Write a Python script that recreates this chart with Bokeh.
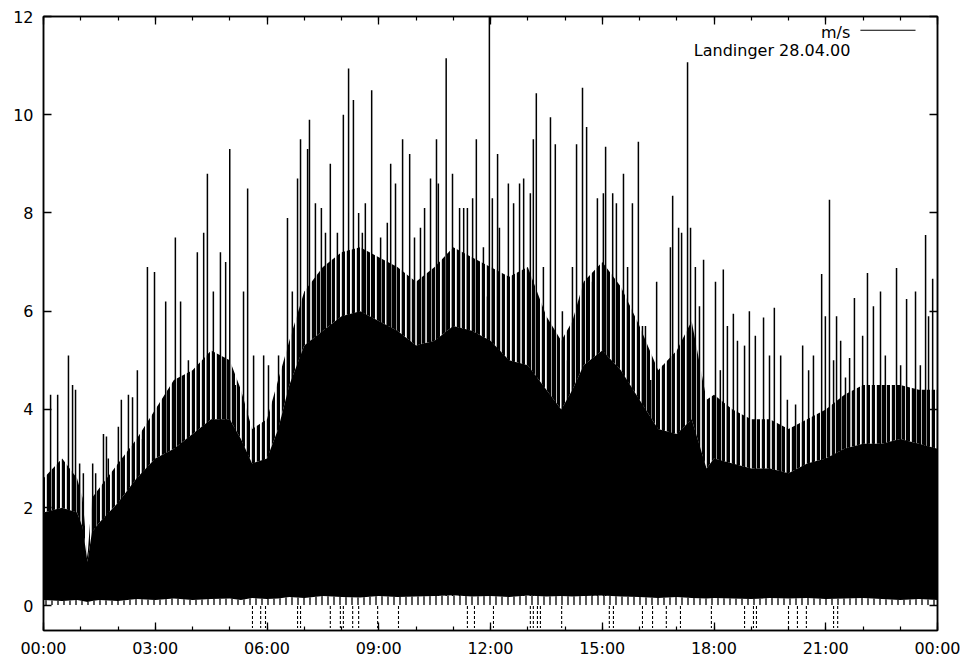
from bokeh.plotting import figure
from bokeh.models import FixedTicker, LinearAxis, Range1d, Label
from bokeh.embed import file_html
from bokeh.resources import INLINE

# ---- data (hours of day, wind speed m/s) ----
env_hours = [0.0, 0.5, 0.9, 1.05, 1.18, 1.3, 1.5, 2.0, 2.5, 3.0, 3.5, 4.0, 4.5, 5.0,
             5.3, 5.6, 6.0, 6.3, 6.6, 7.0, 7.5, 8.0, 8.5, 9.0, 9.5, 10.0, 10.5, 11.0,
             11.5, 12.0, 12.5, 13.0, 13.5, 13.9, 14.2, 14.5, 15.0, 15.5, 16.0, 16.5,
             17.0, 17.4, 17.8, 18.0, 18.5, 19.0, 19.5, 20.0, 20.5, 21.0, 21.5, 22.0,
             22.5, 23.0, 23.5, 24.0]
solid_level = [1.9, 2.0, 1.9, 1.6, 0.9, 1.5, 1.7, 2.1, 2.6, 3.0, 3.2, 3.5, 3.8, 3.8,
               3.4, 2.9, 3.0, 3.6, 4.5, 5.3, 5.6, 5.9, 6.0, 5.8, 5.6, 5.3, 5.4, 5.7,
               5.6, 5.4, 5.0, 4.9, 4.4, 4.0, 4.4, 4.9, 5.2, 4.8, 4.2, 3.6,
               3.5, 3.8, 2.8, 3.0, 2.9, 2.8, 2.8, 2.7, 2.9, 3.0, 3.2, 3.3,
               3.3, 3.4, 3.3, 3.2]
dense_level = [2.6, 3.0, 2.6, 2.2, 1.0, 2.2, 2.4, 2.9, 3.4, 4.0, 4.6, 4.8, 5.2, 5.0,
               4.4, 3.6, 3.8, 4.6, 5.4, 6.4, 6.9, 7.2, 7.3, 7.1, 6.9, 6.6, 6.9, 7.3,
               7.1, 6.9, 6.7, 6.9, 5.9, 5.4, 5.8, 6.6, 7.0, 6.5, 5.7, 4.8,
               5.2, 5.8, 4.2, 4.3, 4.0, 3.8, 3.8, 3.6, 3.8, 4.0, 4.3, 4.5,
               4.5, 4.5, 4.4, 4.4]
floor_level = [0.12, 0.10, 0.12, 0.10, 0.08, 0.10, 0.12, 0.10, 0.14, 0.12, 0.15, 0.12, 0.14, 0.15,
               0.12, 0.16, 0.14, 0.15, 0.18, 0.16, 0.20, 0.18, 0.17, 0.20, 0.18, 0.19, 0.20, 0.22,
               0.19, 0.20, 0.18, 0.21, 0.19, 0.20, 0.19, 0.20, 0.21, 0.19, 0.18, 0.16,
               0.18, 0.16, 0.15, 0.16, 0.15, 0.14, 0.16, 0.15, 0.16, 0.14, 0.15, 0.16,
               0.14, 0.12, 0.14, 0.12]

spike_hours = [0.19, 0.38, 0.67, 0.78, 0.86, 0.97, 1.07, 1.32, 1.40, 1.61, 1.69, 1.74,
               2.01, 2.09, 2.28, 2.39, 2.52, 2.66, 2.79, 2.98, 3.28, 3.54, 3.68, 3.89,
               4.13, 4.30, 4.40, 4.56, 4.75, 4.89, 5.00, 5.15, 5.37, 5.48, 5.64, 5.91,
               6.04, 6.31, 6.55, 6.68, 6.82, 6.90, 7.09, 7.14, 7.30, 7.46, 7.57, 7.70,
               7.89, 8.05, 8.19, 8.32, 8.46, 8.56, 8.64, 8.81, 9.05, 9.23, 9.32, 9.45,
               9.64, 9.83, 9.96, 10.12, 10.23, 10.39, 10.55, 10.60, 10.81, 10.98, 11.17, 11.28,
               11.38, 11.52, 11.62, 11.81, 11.92, 11.97, 12.05, 12.19, 12.24, 12.35, 12.48, 12.62,
               12.78, 12.89, 13.07, 13.15, 13.23, 13.42, 13.61, 13.74, 13.93, 14.07, 14.20, 14.31,
               14.47, 14.58, 14.74, 14.87, 15.03, 15.09, 15.28, 15.38, 15.57, 15.68, 15.81, 15.97,
               16.08, 16.16, 16.30, 16.46, 16.64, 16.83, 16.89, 17.05, 17.13, 17.29, 17.37, 17.50,
               17.61, 17.72, 18.04, 18.17, 18.25, 18.36, 18.52, 18.63, 18.82, 18.95, 19.11, 19.33,
               19.49, 19.62, 19.79, 19.97, 20.19, 20.38, 20.54, 20.67, 20.89, 20.99, 21.10, 21.21,
               21.29, 21.40, 21.53, 21.64, 21.77, 21.99, 22.12, 22.28, 22.47, 22.60, 22.90, 23.01,
               23.17, 23.41, 23.54, 23.68, 23.76, 23.87]
spike_peaks = [4.3, 4.3, 5.1, 4.5, 4.4, 2.9, 2.7, 2.9, 2.7, 3.5, 3.45, 3.0,
               3.65, 4.2, 4.3, 4.25, 4.8, 3.4, 6.9, 6.8, 6.2, 7.5, 6.2, 5.0,
               7.2, 7.6, 8.8, 6.4, 7.2, 7.0, 9.3, 4.5, 6.4, 8.5, 5.1, 5.1,
               4.9, 5.1, 7.9, 6.4, 8.7, 9.5, 9.3, 9.9, 8.2, 8.1, 7.6, 9.0,
               7.6, 10.0, 10.94, 10.3, 8.0, 7.6, 8.2, 10.5, 7.5, 7.8, 9.0, 8.6,
               9.5, 9.2, 7.5, 7.7, 8.1, 8.7, 9.5, 8.6, 11.15, 8.8, 8.1, 8.1,
               8.1, 8.3, 9.5, 7.3, 6.3, 12.0, 8.3, 9.2, 7.7, 6.1, 8.6, 8.2,
               8.6, 8.7, 8.4, 9.5, 10.44, 6.9, 9.95, 9.4, 6.0, 5.0, 6.9, 9.4,
               10.55, 9.75, 6.6, 8.3, 8.4, 9.35, 8.4, 8.2, 8.8, 6.9, 8.2, 9.45,
               5.7, 5.7, 4.6, 6.6, 4.9, 7.3, 8.35, 7.7, 7.6, 11.07, 7.7, 6.9,
               6.1, 7.05, 6.6, 4.8, 6.85, 5.7, 5.95, 5.4, 5.3, 6.0, 5.5, 5.87,
               5.1, 6.07, 5.1, 4.2, 4.1, 5.3, 4.8, 5.1, 6.76, 5.9, 8.27, 5.0,
               5.9, 5.4, 4.65, 5.05, 6.27, 5.5, 6.78, 6.1, 6.4, 5.1, 6.88, 4.9,
               6.25, 6.4, 4.9, 7.55, 5.9, 6.66]

# short dashed marks below zero
gap_hours = [5.61, 5.83, 5.96, 6.82, 6.90, 7.70, 7.97, 8.05, 8.30, 8.46, 8.97, 9.53,
             11.38, 11.57, 12.08, 13.07, 13.15, 13.26, 13.34, 13.91, 15.19, 15.30,
             16.08, 16.35, 16.72, 17.10, 17.93, 18.82, 19.06, 19.14, 20.00, 20.24,
             20.48, 21.21, 21.32]
gap_low = -0.45

x_major = [0, 3, 6, 9, 12, 15, 18, 21, 24]
x_minor = list(range(0, 25))
x_labels = ["00:00", "03:00", "06:00", "09:00", "12:00", "15:00", "18:00", "21:00", "00:00"]
y_major = [0, 2, 4, 6, 8, 10, 12]

FONT = "DejaVu Sans"
FSIZE = "16px"

p = figure(width=965, height=660, x_range=Range1d(0, 24), y_range=Range1d(-0.5, 12),
           output_backend="svg", toolbar_location=None,
           min_border_left=43, min_border_right=28, min_border_top=16, min_border_bottom=28,
           x_axis_type=None, y_axis_type=None)
p.xgrid.visible = False
p.ygrid.visible = False
p.outline_line_color = "black"
p.outline_line_width = 1.5
p.background_fill_color = "white"
p.border_fill_color = "white"

xt = FixedTicker(ticks=x_major, minor_ticks=x_minor)
yt = FixedTicker(ticks=y_major, minor_ticks=[])


def style_axis(ax, show_labels):
    ax.axis_line_color = "black"
    ax.axis_line_width = 1.5
    ax.major_tick_in = 8
    ax.major_tick_out = 0
    ax.minor_tick_in = 4
    ax.minor_tick_out = 0
    ax.major_tick_line_width = 1.3
    ax.minor_tick_line_width = 1.2
    ax.major_tick_line_color = "black"
    ax.minor_tick_line_color = "black"
    if show_labels:
        ax.major_label_text_font = FONT
        ax.major_label_text_font_size = FSIZE
        ax.major_label_text_color = "black"
    else:
        ax.major_label_text_font_size = "0px"
        ax.major_label_text_alpha = 0
        ax.major_label_standoff = 0


xb = LinearAxis(ticker=xt, major_label_overrides={t: l for t, l in zip(x_major, x_labels)})
style_axis(xb, True)
xb.major_label_standoff = 8
p.add_layout(xb, "below")

xa = LinearAxis(ticker=xt, major_label_overrides={t: "" for t in x_major})
style_axis(xa, False)
p.add_layout(xa, "above")

yl = LinearAxis(ticker=yt)
style_axis(yl, True)
yl.major_label_standoff = 10
p.add_layout(yl, "left")

yr = LinearAxis(ticker=yt, major_label_overrides={t: "" for t in y_major})
style_axis(yr, False)
p.add_layout(yr, "right")

# solid body of the trace
p.varea(x=env_hours, y1=floor_level, y2=solid_level, fill_color="black", fill_alpha=1)
# densely hatched zone above (almost black with thin white slits)
p.varea(x=env_hours, y1=solid_level, y2=dense_level, fill_alpha=0,
        hatch_pattern="|", hatch_color="black", hatch_scale=5, hatch_weight=3.4)
# ragged floor near zero
p.varea(x=env_hours, y1=[0.02] * len(env_hours), y2=floor_level, fill_alpha=0,
        hatch_pattern="|", hatch_color="black", hatch_scale=6, hatch_weight=1.3)
# individual gusts
p.segment(x0=spike_hours, y0=[0.2] * len(spike_hours), x1=spike_hours, y1=spike_peaks,
          line_color="black", line_width=1.5)
# dashed marks below zero
p.segment(x0=gap_hours, y0=[0] * len(gap_hours), x1=gap_hours, y1=[gap_low] * len(gap_hours),
          line_color="black", line_width=1.1, line_dash="3 2")

# gnuplot style key (text left, line sample right)
p.add_layout(Label(x=21.66, y=11.68, text="m/s", text_align="right", text_baseline="middle",
                   text_font=FONT, text_font_size=FSIZE, text_color="black"))
p.add_layout(Label(x=21.66, y=11.31, text="Landinger 28.04.00", text_align="right",
                   text_baseline="middle", text_font=FONT, text_font_size=FSIZE,
                   text_color="black"))
p.line(x=[21.93, 23.41], y=[11.72, 11.72], line_color="black", line_width=1.2)

open("out.html", "w").write(file_html(p, INLINE))
